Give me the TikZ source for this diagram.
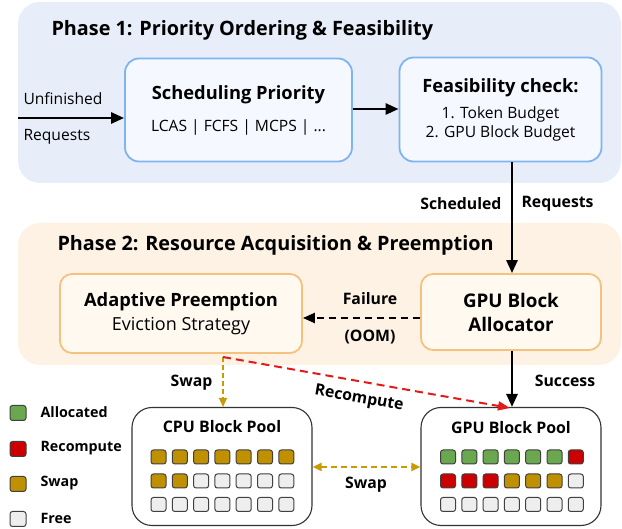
\documentclass[tikz,border=0pt]{standalone}
\usepackage{fontspec}
\setmainfont{Open Sans}
\usetikzlibrary{arrows.meta}
\definecolor{ph1bg}{HTML}{E7EEF9}
\definecolor{ph1box}{HTML}{F5F9FF}
\definecolor{ph1line}{HTML}{80B4F0}
\definecolor{ph2bg}{HTML}{FDF2E4}
\definecolor{ph2box}{HTML}{FFF9F0}
\definecolor{ph2line}{HTML}{F4C27E}
\definecolor{cgreen}{HTML}{6AA84F}
\definecolor{cred}{HTML}{CC0000}
\definecolor{cgold}{HTML}{BF9000}
\definecolor{cfree}{HTML}{EEEEEE}
\definecolor{arrgold}{HTML}{C99A06}
\definecolor{arrred}{HTML}{E01B1B}
\begin{document}
\begin{tikzpicture}[x=1pt,y=-1pt,
  phase/.style={rounded corners=22pt},
  bluebox/.style={draw=ph1line,line width=1.8pt,fill=ph1box,rounded corners=14pt,align=center},
  orangebox/.style={draw=ph2line,line width=1.8pt,fill=ph2box,rounded corners=12pt,align=center},
  poolbox/.style={draw=black!80,line width=1.1pt,fill=white,rounded corners=20pt},
  blk/.style={draw=black!75,line width=1pt,rounded corners=2.5pt,minimum width=15pt,minimum height=14pt,inner sep=0pt},
  leg/.style={draw=black!75,line width=1pt,rounded corners=2.5pt,minimum width=16pt,minimum height=15pt,inner sep=0pt},
  title/.style={font=\fontsize{19.8}{23}\selectfont\bfseries,anchor=west},
  hdr/.style={font=\fontsize{18.3}{22}\selectfont\bfseries},
  lbl/.style={font=\fontsize{15.6}{18}\selectfont},
  blbl/.style={font=\fontsize{15.8}{18}\selectfont\bfseries},
  legl/.style={font=\fontsize{14.3}{17}\selectfont\bfseries,anchor=west},
  blackarr/.style={line width=2.7pt,-{Triangle[length=13pt,width=11pt]}},
]
\useasboundingbox (0,0) rectangle (622,529);
% phase backgrounds
\fill[ph1bg,phase] (18,2) rectangle (621,183);
\fill[ph2bg,phase] (18,223) rectangle (621,365);
\node[title] (t1) at (48,30) {Phase 1: Priority Ordering \& Feasibility};
\node[title] (t2) at (54,245) {Phase 2: Resource Acquisition \& Preemption};

% phase 1 boxes
\node[bluebox,minimum width=227pt,minimum height=103pt] (sched) at (238.5,110) {};
\node[hdr] (schedt) at (238.5,95) {Scheduling Priority};
\node[lbl] (scheds) at (238.5,127.5) {LCAS | FCFS | MCPS | ...};
\node[bluebox,minimum width=202pt,minimum height=104pt] (feas) at (500.5,109.5) {};
\node[hdr] (feast) at (500.5,88) {Feasibility check:};
\node[lbl] (feas1) at (500.5,114) {1. Token Budget};
\node[lbl] (feas2) at (500.5,133) {2. GPU Block Budget};

\coordinate (in) at (18,118);
\draw[blackarr] (in) -- (sched.west |- in);
\node[lbl,anchor=west] (unf) at (20,99) {Unfinished};
\node[lbl,anchor=west] (req) at (20,137) {Requests};
\draw[blackarr] (sched.east |- 0,109) -- (feas.west |- 0,109);

% phase 2 boxes
\node[orangebox,minimum width=242pt,minimum height=79pt] (ap) at (181,313.5) {};
\node[hdr] (apt) at (181,302) {Adaptive Preemption};
\node[font=\fontsize{18}{22}\selectfont] (aps) at (181,326) {Eviction Strategy};
\node[orangebox,minimum width=180pt,minimum height=76pt,font=\fontsize{18.8}{24}\selectfont\bfseries] (alloc) at (511,312) {GPU Block\\Allocator};

\draw[blackarr] (feas.south -| 512,0) -- (alloc.north -| 512,0);
\node[blbl,anchor=east] (schl) at (505,204) {Scheduled};
\node[blbl,anchor=west] (reql) at (518,204) {Requests};

\draw[line width=2.2pt,dash pattern=on 7pt off 5pt,-{Triangle[length=12pt,width=10pt]}] (alloc.west |- 0,318) -- (ap.east |- 0,318);
\node[blbl] (fail) at (370,299) {Failure};
\node[blbl] (oom) at (370,337) {(OOM)};

% pools
\node[poolbox,minimum width=180pt,minimum height=118pt] (cpu) at (222,466.5) {};
\node[font=\fontsize{15.9}{19}\selectfont\bfseries] (cput) at (222,427) {CPU Block Pool};
\node[poolbox,minimum width=180pt,minimum height=118pt] (gpu) at (511,466.5) {};
\node[font=\fontsize{15.9}{19}\selectfont\bfseries] (gput) at (511,428) {GPU Block Pool};

% connectors from phase 2 to pools
\coordinate (apc) at (223,357);
\draw[arrgold,line width=1.5pt,dash pattern=on 5pt off 3pt,-{Triangle[length=9pt,width=8pt]}] (apc) -- (cpu.north -| apc);
\node[blbl,anchor=east] (swl) at (216,383) {Swap};
\draw[arrred,line width=2pt,dash pattern=on 8pt off 5pt,-{Triangle[length=12pt,width=9pt]}] (apc) -- (510,408);
\node[blbl,rotate=-10] (recl) at (359,399) {Recompute};
\draw[blackarr] (alloc.south -| 512,0) -- (gpu.north -| 512,0);
\node[blbl] (succ) at (565,381) {Success};

\draw[arrgold,line width=2pt,dash pattern=on 6pt off 4pt,{Triangle[length=9pt,width=8pt]}-{Triangle[length=9pt,width=8pt]}] (cpu.east |- 0,467) -- (gpu.west |- 0,467);
\node[blbl] (swl2) at (366,485) {Swap};

% CPU blocks
\foreach \i in {0,...,6} {
  \node[blk,fill=cgold] (c1\i) at (158.5+21.3*\i,457) {};
  \node[blk,fill=cfree] (c3\i) at (158.5+21.3*\i,504.5) {};
}
\foreach \i in {0,1} {\node[blk,fill=cgold] (c2\i) at (158.5+21.3*\i,481) {};}
\foreach \i in {2,...,6} {\node[blk,fill=cfree] (c2\i) at (158.5+21.3*\i,481) {};}
% GPU blocks
\foreach \i in {0,...,5} {\node[blk,fill=cgreen] (g1\i) at (448+21.3*\i,457) {};}
\node[blk,fill=cred] (g16) at (448+21.3*6,457) {};
\foreach \i in {0,1,2} {\node[blk,fill=cred] (g2\i) at (448+21.3*\i,481) {};}
\foreach \i in {3,4,5} {\node[blk,fill=cgold] (g2\i) at (448+21.3*\i,481) {};}
\node[blk,fill=cfree] (g26) at (448+21.3*6,481) {};
\foreach \i in {0,...,6} {\node[blk,fill=cfree] (g3\i) at (448+21.3*\i,504.5) {};}

% legend
\node[leg,fill=cgreen] (l1) at (18,413) {};
\node[leg,fill=cred] (l2) at (18,449) {};
\node[leg,fill=cgold] (l3) at (18,484) {};
\node[leg,fill=cfree] (l4) at (18,519) {};
\node[legl] (l1t) at (37,412) {Allocated};
\node[legl] (l2t) at (37,448) {Recompute};
\node[legl] (l3t) at (37,483) {Swap};
\node[legl] (l4t) at (37,518) {Free};
\end{tikzpicture}
\end{document}
